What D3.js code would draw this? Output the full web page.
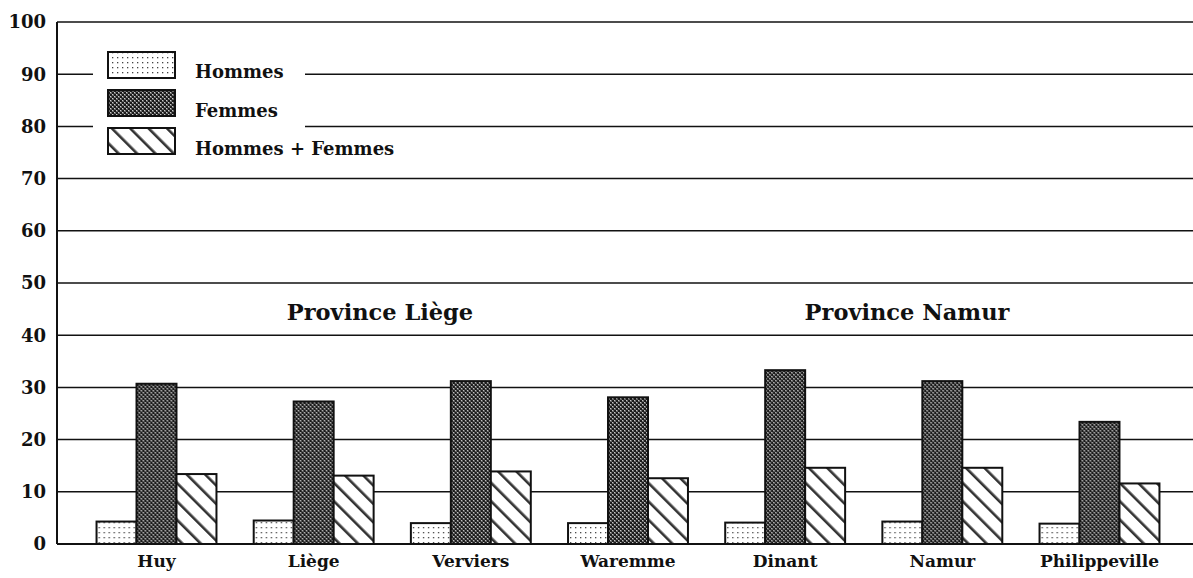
<!DOCTYPE html>
<meta charset="utf-8">
<style>
body { margin: 0; background: #fff; }
text { font-family: "DejaVu Serif", "Liberation Serif", serif; font-weight: bold; fill: #111; }
.grid line { stroke: #111; stroke-width: 1.5px; }
.bar { stroke: #111; stroke-width: 2px; }
</style>
<svg></svg>
<script src="https://d3js.org/d3.v7.min.js"></script>
<script>

var arrondissements = ["Huy", "Liège", "Verviers", "Waremme", "Dinant", "Namur", "Philippeville"];
var series = ["Hommes", "Femmes", "Hommes + Femmes"];
var hommes = [4.3, 4.5, 4.0, 4.0, 4.1, 4.3, 3.9];
var femmes = [30.7, 27.3, 31.2, 28.1, 33.3, 31.2, 23.4];
var total  = [13.4, 13.1, 13.9, 12.6, 14.6, 14.6, 11.6];
var yTicks = [0, 10, 20, 30, 40, 50, 60, 70, 80, 90, 100];
var provinces = ["Province Liège", "Province Namur"];

var width = 1193, height = 578;
var svg = d3.select("svg").attr("width", width).attr("height", height);

var x = d3.scaleBand().domain(arrondissements).range([78, 1178]).paddingInner(0.237).paddingOuter(0.118);
var xs = d3.scaleBand().domain(series).range([0, x.bandwidth()]);
var y = d3.scaleLinear().domain([0, 100]).range([544, 22]);

/* patterns */
var defs = svg.append("defs");
var p1 = defs.append("pattern").attr("id", "dots").attr("patternUnits", "userSpaceOnUse")
  .attr("width", 5).attr("height", 5);
p1.append("rect").attr("width", 5).attr("height", 5).attr("fill", "#fff");
p1.append("rect").attr("x", 2).attr("y", 2).attr("width", 1.3).attr("height", 1.3).attr("fill", "#444");

var p2 = defs.append("pattern").attr("id", "dense").attr("patternUnits", "userSpaceOnUse")
  .attr("width", 4).attr("height", 4);
p2.append("rect").attr("width", 4).attr("height", 4).attr("fill", "#666");
p2.append("rect").attr("width", 2).attr("height", 2).attr("fill", "#1a1a1a");
p2.append("rect").attr("x", 2).attr("y", 2).attr("width", 2).attr("height", 2).attr("fill", "#1a1a1a");
p2.append("rect").attr("x", 2).attr("y", 0).attr("width", 1).attr("height", 1).attr("fill", "#ccc");
p2.append("rect").attr("x", 0).attr("y", 2).attr("width", 1).attr("height", 1).attr("fill", "#ccc");

var p3 = defs.append("pattern").attr("id", "hatch").attr("patternUnits", "userSpaceOnUse")
  .attr("width", 13).attr("height", 13).attr("patternTransform", "rotate(-45)");
p3.append("rect").attr("width", 13).attr("height", 13).attr("fill", "#fff");
p3.append("rect").attr("x", 0).attr("y", 0).attr("width", 2.6).attr("height", 13).attr("fill", "#333");

var fills = {"Hommes": "url(#dots)", "Femmes": "url(#dense)", "Hommes + Femmes": "url(#hatch)"};

/* grid */
svg.append("g").attr("class", "grid")
  .selectAll("line").data(yTicks.filter(function(d) { return d > 0; }))
  .enter().append("line")
  .attr("x1", 57).attr("x2", width)
  .attr("y1", function(d) { return y(d); }).attr("y2", function(d) { return y(d); });

// axis
svg.append("line").attr("x1", 57).attr("x2", 57).attr("y1", y(100)).attr("y2", y(0))
  .attr("stroke", "#111").attr("stroke-width", 2);
svg.append("line").attr("x1", 57).attr("x2", width).attr("y1", y(0)).attr("y2", y(0))
  .attr("stroke", "#111").attr("stroke-width", 2);

svg.append("g").selectAll("text").data(yTicks).enter().append("text")
  .attr("x", 46).attr("y", function(d) { return y(d); })
  .attr("dy", "0.35em").attr("text-anchor", "end").attr("font-size", 18)
  .text(function(d) { return d; });

/* bars */
var rows = arrondissements.map(function(a, i) {
  return {name: a, values: [hommes[i], femmes[i], total[i]]};
});

var grp = svg.append("g").selectAll("g").data(rows).enter().append("g")
  .attr("transform", function(d) { return "translate(" + x(d.name) + ",0)"; });

grp.selectAll("rect").data(function(d) {
    return d.values.map(function(v, j) { return {key: series[j], value: v}; });
  })
  .enter().append("rect").attr("class", "bar")
  .attr("x", function(d) { return xs(d.key); })
  .attr("width", xs.bandwidth())
  .attr("y", function(d) { return y(d.value); })
  .attr("height", function(d) { return y(0) - y(d.value); })
  .attr("fill", function(d) { return fills[d.key]; });

svg.append("g").selectAll("text").data(arrondissements).enter().append("text")
  .attr("x", function(d) { return x(d) + x.bandwidth() / 2; })
  .attr("y", 567).attr("text-anchor", "middle").attr("font-size", 17)
  .text(function(d) { return d; });

/* province titles */
var titleX = [380, 907];
svg.append("g").selectAll("text").data(provinces).enter().append("text")
  .attr("x", function(d, i) { return titleX[i]; })
  .attr("y", 320).attr("text-anchor", "middle").attr("font-size", 22.5)
  .text(function(d) { return d; });

/* legend */
var legend = svg.append("g");
legend.append("rect").attr("x", 93).attr("y", 40).attr("width", 212).attr("height", 125).attr("fill", "#fff");
var ly = [52, 90, 128];
var textY = [78, 117, 155];
series.forEach(function(s, i) {
  legend.append("rect").attr("class", "bar")
    .attr("x", 108).attr("y", ly[i]).attr("width", 67).attr("height", 26)
    .attr("fill", fills[s]);
  legend.append("text").attr("x", 195).attr("y", textY[i])
    .attr("font-size", 18).text(s);
});

</script>
